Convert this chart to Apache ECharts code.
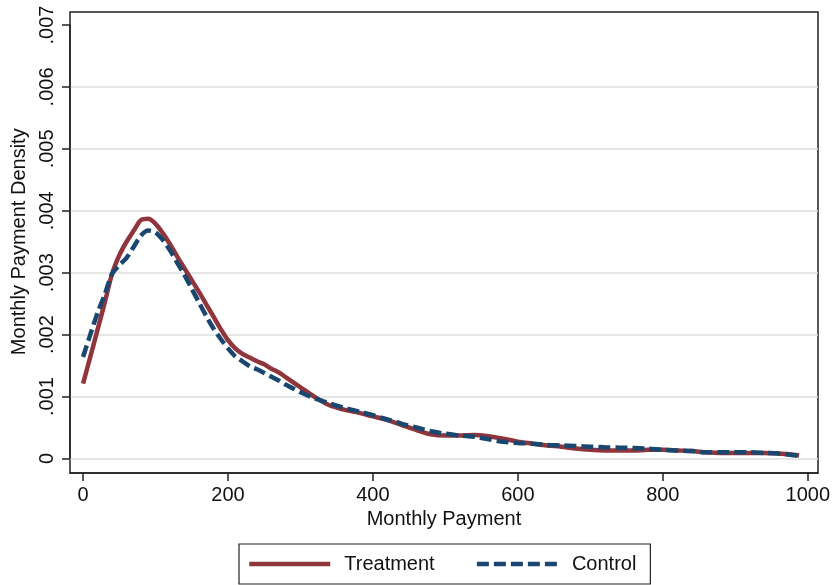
<!DOCTYPE html>
<html>
<head>
<meta charset="utf-8">
<script src="https://cdn.jsdelivr.net/npm/echarts@6/dist/echarts.min.js"></script>
<style>
  html, body { margin: 0; padding: 0; background: #fff; }
  #chart { width: 833px; height: 585px; }
</style>
</head>
<body>
<div id="chart"></div>
<script>
// Monthly payment grid (x values)
const payments = [0,10,20,30,40,50,60,70,80,90,100,110,120,130,140,150,160,170,180,190,200,210,220,230,240,250,260,270,280,290,300,320,340,360,380,400,420,440,460,480,500,520,540,560,580,600,620,640,660,680,700,720,740,760,780,800,820,840,860,880,900,920,940,960,975,988];
// Density values, in units of 0.001
const treatment = [1.21,1.64,2.08,2.52,2.98,3.28,3.50,3.68,3.85,3.87,3.79,3.64,3.46,3.26,3.07,2.88,2.69,2.49,2.29,2.09,1.91,1.78,1.69,1.63,1.57,1.52,1.45,1.39,1.31,1.23,1.15,0.99,0.86,0.79,0.74,0.68,0.62,0.54,0.46,0.39,0.37,0.37,0.38,0.36,0.32,0.27,0.24,0.21,0.19,0.16,0.14,0.13,0.13,0.13,0.14,0.14,0.13,0.12,0.10,0.09,0.09,0.09,0.09,0.08,0.07,0.05];
const control = [1.64,2.00,2.35,2.65,2.98,3.12,3.24,3.42,3.60,3.68,3.65,3.53,3.36,3.16,2.96,2.74,2.52,2.30,2.10,1.93,1.78,1.65,1.57,1.49,1.44,1.38,1.32,1.26,1.19,1.13,1.07,0.97,0.89,0.82,0.76,0.70,0.63,0.56,0.50,0.44,0.40,0.37,0.35,0.31,0.27,0.25,0.24,0.22,0.21,0.20,0.19,0.18,0.175,0.17,0.16,0.14,0.13,0.12,0.10,0.10,0.10,0.10,0.09,0.08,0.06,0.045];
const xTicks = [0,200,400,600,800,1000];
const seriesNames = ['Treatment', 'Control'];

const FONT = '"Liberation Sans", Arial, Helvetica, sans-serif';
const toPairs = arr => payments.map((x, i) => [x, arr[i] / 1000]);

const chart = echarts.init(document.getElementById('chart'), null, { renderer: 'canvas' });
chart.setOption({
  animation: false,
  backgroundColor: '#ffffff',
  textStyle: { fontFamily: FONT, color: '#111' },
  grid: [
    { // outer frame
      left: 70, right: 15, top: 12, bottom: 112,
      show: true, borderColor: '#222', borderWidth: 1.5, backgroundColor: 'transparent'
    },
    { // data area
      left: 70, right: 15, top: 25, bottom: 126.5
    }
  ],
  xAxis: [
    { gridIndex: 0, type: 'value', show: false, min: 0, max: 1 },
    {
      gridIndex: 1, type: 'value', min: -18, max: 1014, offset: 14.5,
      name: 'Monthly Payment', nameLocation: 'middle', nameGap: 36,
      nameTextStyle: { fontSize: 20, color: '#111', fontFamily: FONT },
      axisLine: { show: true, onZero: false, lineStyle: { color: '#222', width: 1.5 } },
      axisTick: { show: true, customValues: xTicks, length: 8, lineStyle: { color: '#222', width: 1.5 } },
      axisLabel: { customValues: xTicks, fontSize: 20, color: '#111', margin: 12, fontFamily: FONT,
        formatter: v => String(Math.round(v)) },
      splitLine: { show: false }
    }
  ],
  yAxis: [
    { gridIndex: 0, type: 'value', show: false, min: 0, max: 1 },
    {
      gridIndex: 1, type: 'value', min: 0, max: 0.007, interval: 0.001,
      name: 'Monthly Payment Density', nameLocation: 'middle', nameGap: 38,
      nameTextStyle: { fontSize: 20, color: '#111', fontFamily: FONT },
      axisLine: { show: true, onZero: false, lineStyle: { color: '#222', width: 1.5 } },
      axisTick: { show: true, length: 8, lineStyle: { color: '#222', width: 1.5 } },
      axisLabel: {
        rotate: 90, fontSize: 20, color: '#111', margin: 13, fontFamily: FONT,
        formatter: v => (Math.abs(v) < 1e-12 ? '0' : v.toFixed(3).replace(/^0/, ''))
      },
      splitLine: { show: true, showMaxLine: false, lineStyle: { color: '#dedede', width: 1.5 } }
    }
  ],
  legend: {
    data: seriesNames,
    left: 239, top: 544,
    orient: 'horizontal',
    itemWidth: 81, itemHeight: 20, itemGap: 40,
    padding: [10, 14, 10, 8],
    borderColor: '#222', borderWidth: 1.2,
    textStyle: { fontSize: 20, color: '#111', fontFamily: FONT, padding: [0, 0, 0, 9] },
    itemStyle: { opacity: 0, borderWidth: 0 },
    lineStyle: { width: 4.5 }
  },
  series: [
    {
      name: seriesNames[0], type: 'line', xAxisIndex: 1, yAxisIndex: 1,
      data: toPairs(treatment), showSymbol: false, symbol: 'none', smooth: 0.3,
      lineStyle: { color: '#90353b', width: 4.5 }, itemStyle: { color: '#90353b' }, z: 2
    },
    {
      name: seriesNames[1], type: 'line', xAxisIndex: 1, yAxisIndex: 1,
      data: toPairs(control), showSymbol: false, symbol: 'none', smooth: 0.3,
      lineStyle: { color: '#1a476f', width: 4.5, type: [12, 5] }, itemStyle: { color: '#1a476f' }, z: 3
    }
  ]
});
</script>
</body>
</html>
